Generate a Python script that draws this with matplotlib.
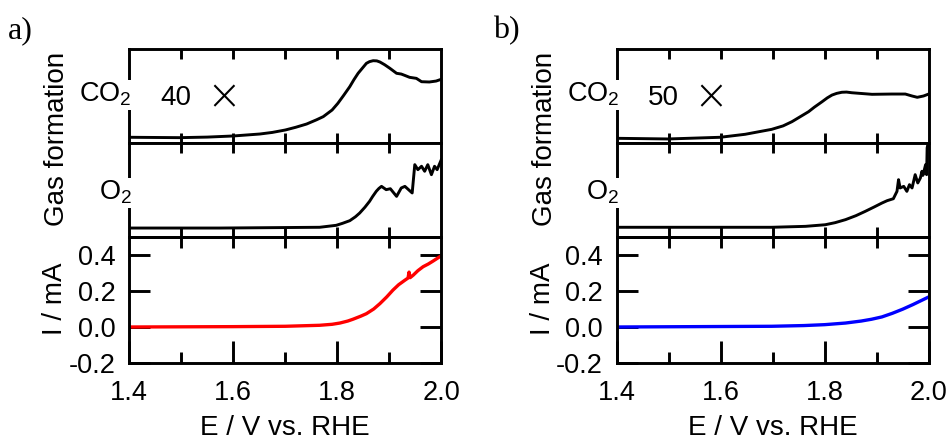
import matplotlib
matplotlib.use('Agg')
import matplotlib.pyplot as plt

plt.rcParams['font.family'] = ['Liberation Sans', 'DejaVu Sans']
plt.rcParams['mathtext.fontset'] = 'custom'
plt.rcParams['mathtext.rm'] = 'Liberation Sans'
plt.rcParams['mathtext.it'] = 'Liberation Sans:italic'
plt.rcParams['axes.unicode_minus'] = False

# ---- panel a) data ----
co2_a_E = [1.400, 1.497, 1.550, 1.600, 1.651, 1.675, 1.700, 1.720, 1.741, 1.760, 1.773, 1.790,
           1.801, 1.812, 1.824, 1.832, 1.840, 1.850, 1.856, 1.862, 1.869, 1.876, 1.882, 1.891,
           1.901, 1.914, 1.923, 1.930, 1.939, 1.952, 1.962, 1.977, 1.990, 2.000]
co2_a_v = [0.058, 0.054, 0.060, 0.072, 0.093, 0.110, 0.136, 0.165, 0.200, 0.245, 0.279, 0.350,
           0.421, 0.505, 0.600, 0.675, 0.743, 0.810, 0.850, 0.868, 0.878, 0.876, 0.864, 0.835,
           0.797, 0.743, 0.735, 0.720, 0.700, 0.689, 0.653, 0.650, 0.660, 0.679]

o2_a_E = [1.400, 1.574, 1.766, 1.798, 1.810, 1.824, 1.835, 1.843, 1.853, 1.862, 1.868, 1.875,
          1.880, 1.885, 1.894, 1.902, 1.914, 1.923, 1.930, 1.944, 1.949, 1.955, 1.962, 1.968,
          1.974, 1.981, 1.987, 1.992, 2.000]
o2_a_v = [0.095, 0.095, 0.103, 0.124, 0.145, 0.173, 0.215, 0.254, 0.315, 0.378, 0.430, 0.485,
          0.515, 0.537, 0.502, 0.512, 0.431, 0.520, 0.537, 0.467, 0.767, 0.714, 0.750, 0.697,
          0.767, 0.661, 0.750, 0.714, 0.820]

cur_a_E = [1.400, 1.600, 1.700, 1.766, 1.790, 1.805, 1.820, 1.830, 1.845, 1.856, 1.870, 1.882,
           1.895, 1.907, 1.918, 1.930, 1.936, 1.938, 1.940, 1.946, 1.955, 1.965, 1.975, 1.984,
           2.000]
cur_a_I = [0.000, 0.002, 0.004, 0.0095, 0.015, 0.022, 0.033, 0.043, 0.060, 0.074, 0.100, 0.130,
           0.167, 0.205, 0.235, 0.260, 0.272, 0.305, 0.274, 0.288, 0.313, 0.335, 0.350, 0.366,
           0.396]

# ---- panel b) data ----
co2_b_E = [1.400, 1.499, 1.599, 1.647, 1.698, 1.720, 1.737, 1.769, 1.780, 1.795, 1.805, 1.814,
           1.823, 1.833, 1.842, 1.852, 1.891, 1.929, 1.955, 1.968, 1.978, 1.990, 2.000]
co2_b_v = [0.047, 0.040, 0.058, 0.090, 0.143, 0.180, 0.225, 0.332, 0.380, 0.439, 0.480, 0.510,
           0.528, 0.540, 0.542, 0.535, 0.518, 0.521, 0.521, 0.500, 0.486, 0.500, 0.521]

o2_b_E = [1.400, 1.698, 1.763, 1.801, 1.820, 1.840, 1.860, 1.878, 1.895, 1.910, 1.920, 1.932,
          1.939, 1.942, 1.945, 1.952, 1.958, 1.963, 1.968, 1.974, 1.979, 1.984, 1.987, 1.989,
          1.994, 1.996, 1.997, 2.000]
o2_b_v = [0.103, 0.103, 0.113, 0.130, 0.152, 0.184, 0.226, 0.272, 0.318, 0.360, 0.385, 0.406,
          0.484, 0.608, 0.520, 0.537, 0.484, 0.555, 0.520, 0.661, 0.573, 0.626, 0.697, 0.654,
          0.767, 0.661, 0.944, 1.030]

cur_b_E = [1.400, 1.698, 1.760, 1.800, 1.840, 1.870, 1.890, 1.910, 1.930, 1.950, 1.970, 1.985,
           2.000]
cur_b_I = [0.000, 0.004, 0.008, 0.013, 0.022, 0.033, 0.043, 0.056, 0.076, 0.099, 0.125, 0.146,
           0.167]

x_major = [1.4, 1.6, 1.8, 2.0]
x_minor = [1.5, 1.7, 1.9]
x_all = [1.5, 1.6, 1.7, 1.8, 1.9]
y_ticks = [-0.2, 0.0, 0.2, 0.4]
y_labels = ['-0.2', '0.0', '0.2', '0.4']

W, H = 949, 441
fig = plt.figure(figsize=(W / 100, H / 100), dpi=100)


def fx(x):
    return x / W


def fy(y):
    return 1 - y / H


LW = 2.1


def gas_axis(ax):
    ax.set_xlim(1.4, 2.0)
    ax.set_ylim(0, 1)
    ax.set_yticks([])
    ax.set_xticks(x_all)
    ax.tick_params(axis='x', direction='in', length=7.2, width=LW, top=True, bottom=True,
                   labelbottom=False)
    for s in ax.spines.values():
        s.set_linewidth(LW)


def panel(xl, xletter, letter, factor, co2E, co2v, o2E, o2v, iE, iI, color):
    x0 = fx(xl)
    w = 312 / W
    ax1 = fig.add_axes([x0, fy(142.7), w, 93.4 / H])
    ax2 = fig.add_axes([x0, fy(237), w, 94.3 / H])
    ax3 = fig.add_axes([x0, fy(363), w, 126 / H])

    gas_axis(ax1)
    ax1.plot(co2E, co2v, color='black', lw=2.1)
    gas_axis(ax2)
    ax2.plot(o2E, o2v, color='black', lw=2.1)

    ax3.plot(iE, iI, color=color, lw=2.4)
    ax3.set_xlim(1.4, 2.0)
    ax3.set_ylim(-0.2, 0.5)
    ax3.set_xticks(x_major)
    ax3.set_xticklabels(['1.4', '1.6', '1.8', '2.0'])
    ax3.set_xticks(x_minor, minor=True)
    ax3.set_yticks(y_ticks)
    ax3.set_yticklabels(y_labels)
    ax3.tick_params(axis='x', which='major', direction='in', length=15.8, width=LW,
                    top=False, labelsize=19.5, pad=12)
    ax3.tick_params(axis='x', which='minor', direction='in', length=8, width=LW, top=False)
    ax3.tick_params(axis='y', direction='in', length=15, width=LW, left=True, right=True,
                    labelsize=19.5, pad=10)
    for s in ax3.spines.values():
        s.set_linewidth(LW)
    sec = ax3.secondary_xaxis('top')
    sec.set_xticks(x_all)
    sec.tick_params(axis='x', direction='in', length=8, width=LW, labeltop=False)
    sec.spines['top'].set_linewidth(LW)
    ax3.set_xlabel('E / V vs. RHE', fontsize=20, labelpad=6.5)

    # labels
    fig.text(fx(xletter), fy(38), letter, family='Liberation Serif', fontsize=23,
             ha='left', va='baseline')
    fig.text(fx(xl + 2.5), fy(102), r'CO$_2$', fontsize=19.5, ha='right', va='baseline',
             bbox=dict(facecolor='white', edgecolor='none', pad=1))
    fig.text(fx(xl + 2.5), fy(200), r'O$_2$', fontsize=19.5, ha='right', va='baseline',
             bbox=dict(facecolor='white', edgecolor='none', pad=1))
    fig.text(fx(xl + 31), fy(105), factor, fontsize=20, ha='left', va='baseline')
    fig.text(fx(xl + 94), fy(97), '\u00d7', fontsize=30, ha='center', va='center',
             family='DejaVu Sans', fontweight='light')
    fig.text(fx(xl - 72), fy(138.5), 'Gas formation', fontsize=20, rotation=90,
             ha='center', va='center')
    fig.text(fx(xl - 74), fy(299), 'I / mA', fontsize=20, rotation=90,
             ha='center', va='center')


panel(129.3, 8, 'a)', '40', co2_a_E, co2_a_v, o2_a_E, o2_a_v, cur_a_E, cur_a_I, '#ff0000')
panel(616.7, 493, 'b)', '50', co2_b_E, co2_b_v, o2_b_E, o2_b_v, cur_b_E, cur_b_I, '#0000ff')

fig.savefig('out.png', dpi=100)
